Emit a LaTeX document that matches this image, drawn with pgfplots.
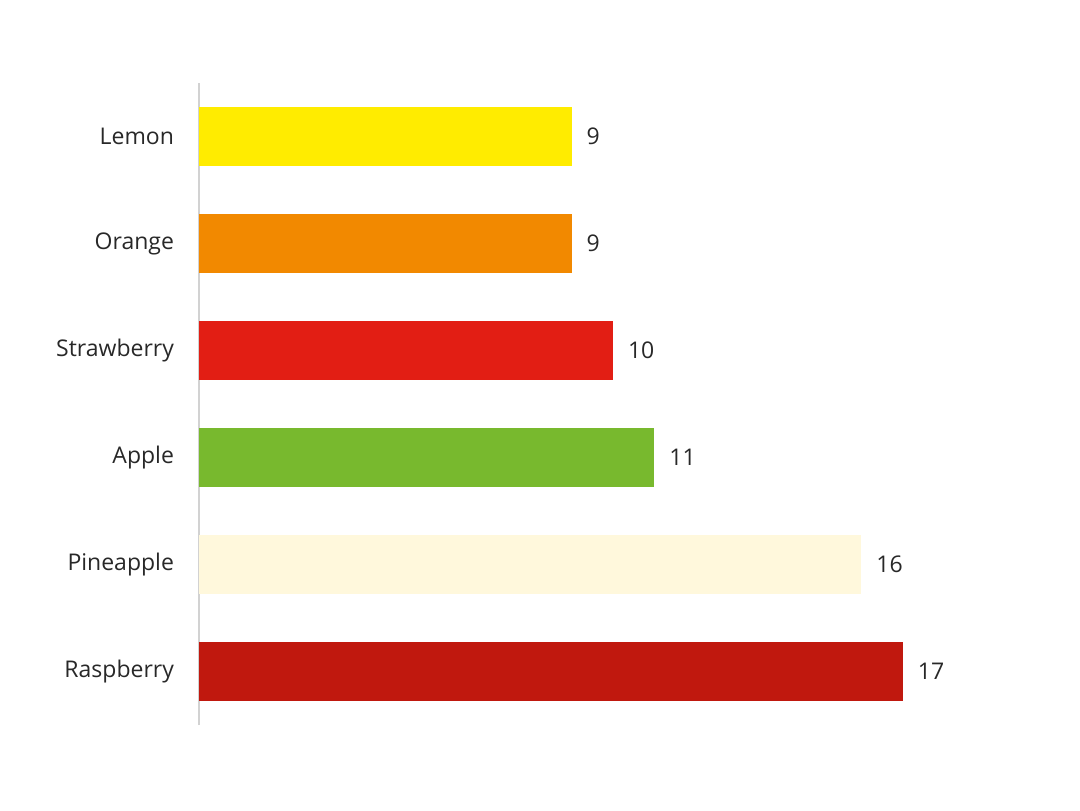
\documentclass[border=0pt]{standalone}
\usepackage{pgfplots}
\pgfplotsset{compat=1.18}
\usepackage{fontspec}
\setmainfont{Open Sans}
\definecolor{lemon}{RGB}{255,236,0}
\definecolor{orangec}{RGB}{242,137,0}
\definecolor{straw}{RGB}{226,30,20}
\definecolor{apple}{RGB}{120,185,46}
\definecolor{pine}{RGB}{255,248,220}
\definecolor{rasp}{RGB}{192,24,14}
\definecolor{txt}{RGB}{40,40,40}
\definecolor{axisgray}{RGB}{210,210,210}
\begin{document}
\begin{tikzpicture}
\path[use as bounding box] (0,0) rectangle (540pt,405pt);
\begin{axis}[
  at={(99.5pt,42.5pt)}, anchor=south west,
  scale only axis, width=414pt, height=321pt,
  xbar, bar width=29.5pt,
  xmin=0, xmax=20, ymin=-0.5, ymax=5.5,
  axis x line=none,
  axis y line*=left,
  y axis line style={draw=axisgray, line width=0.6pt, -},
  ytick={0,1,2,3,4,5},
  yticklabels={Raspberry,Pineapple,Apple,Strawberry,Orange,Lemon},
  major tick length=0pt,
  /pgf/number format/assume math mode=true,
  yticklabel style={font=\fontsize{11.5}{13}\selectfont, text=txt, xshift=-9pt},
  nodes near coords,
  nodes near coords style={font=\fontsize{11.5}{13}\selectfont, text=txt, anchor=west, xshift=4pt},
  every axis plot/.append style={bar shift=0pt, draw=none},
  clip=false,
]
\addplot[fill=rasp] coordinates {(17,0)};
\addplot[fill=pine] coordinates {(16,1)};
\addplot[fill=apple] coordinates {(11,2)};
\addplot[fill=straw] coordinates {(10,3)};
\addplot[fill=orangec] coordinates {(9,4)};
\addplot[fill=lemon] coordinates {(9,5)};
\end{axis}
\end{tikzpicture}
\end{document}
